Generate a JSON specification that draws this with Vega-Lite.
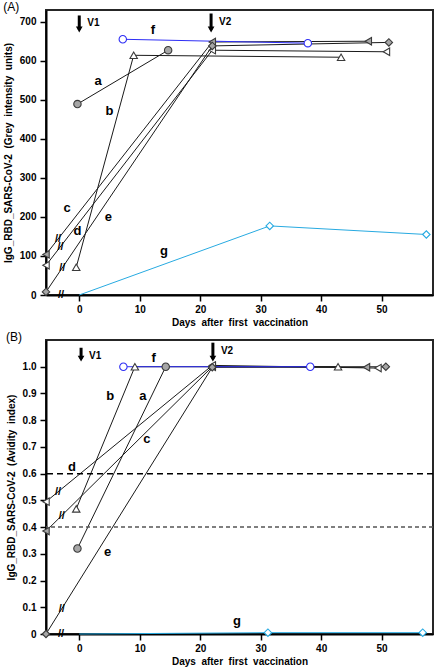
{
  "$schema": "https://vega.github.io/schema/vega-lite/v6.json",
  "padding": {"left": 2, "right": 1, "top": 0, "bottom": 0},
  "spacing": 2,
  "config": {
    "font": "Liberation Sans",
    "view": {"stroke": "#262626", "strokeWidth": 2},
    "axis": {"grid": false, "domainColor": "#000", "domainWidth": 2, "tickColor": "#000", "tickWidth": 1.5, "tickSize": 6, "labelFontSize": 10, "labelFontWeight": "bold", "labelColor": "#000", "titleFontSize": 10, "titleFontWeight": "bold", "titleColor": "#000", "labelPadding": 3, "labelOverlap": false},
    "axisY": {"titlePadding": 6, "labelPadding": 4},
    "axisX": {"titlePadding": 3},
    "title": {"fontSize": 12, "fontWeight": "normal", "anchor": "start", "frame": "bounds", "offset": -4, "color": "#000"}
  },
  "datasets": {
    "seriesA": [
      {"subject": "a", "day": -0.3, "value": 489}, {"subject": "a", "day": 14.7, "value": 627},
      {"subject": "b", "day": -0.5, "value": 71}, {"subject": "b", "day": 9.0, "value": 614}, {"subject": "b", "day": 43.3, "value": 609},
      {"subject": "c", "day": -5.5, "value": 104}, {"subject": "c", "day": 22, "value": 648}, {"subject": "c", "day": 47.8, "value": 650},
      {"subject": "d", "day": -5.5, "value": 76}, {"subject": "d", "day": 22, "value": 627}, {"subject": "d", "day": 50.8, "value": 623},
      {"subject": "e", "day": -5.5, "value": 8}, {"subject": "e", "day": 22, "value": 638}, {"subject": "e", "day": 51.2, "value": 647},
      {"subject": "f", "day": 7.2, "value": 655}, {"subject": "f", "day": 37.8, "value": 645},
      {"subject": "g", "day": 0, "value": 0}, {"subject": "g", "day": 31.5, "value": 177}, {"subject": "g", "day": 57.4, "value": 155}
    ],
    "seriesB": [
      {"subject": "a", "day": -0.3, "value": 0.32}, {"subject": "a", "day": 14.3, "value": 1.0},
      {"subject": "b", "day": -0.5, "value": 0.468}, {"subject": "b", "day": 9.2, "value": 1.0}, {"subject": "b", "day": 42.8, "value": 1.0},
      {"subject": "c", "day": -5.5, "value": 0.385}, {"subject": "c", "day": 22, "value": 1.0}, {"subject": "c", "day": 47.5, "value": 0.998},
      {"subject": "d", "day": -5.5, "value": 0.495}, {"subject": "d", "day": 22, "value": 1.005}, {"subject": "d", "day": 49.4, "value": 0.995},
      {"subject": "e", "day": -5.5, "value": 0.0}, {"subject": "e", "day": 22, "value": 0.998}, {"subject": "e", "day": 50.7, "value": 1.0},
      {"subject": "f", "day": 7.3, "value": 1.0}, {"subject": "f", "day": 38.2, "value": 1.0},
      {"subject": "g", "day": 0, "value": 0}, {"subject": "g", "day": 31.2, "value": 0.005}, {"subject": "g", "day": 56.8, "value": 0.005}
    ],
    "labelsA": [
      {"label": "a", "day": 3.1, "value": 547}, {"label": "b", "day": 5.0, "value": 471},
      {"label": "c", "day": -2.0, "value": 223}, {"label": "d", "day": -0.3, "value": 163},
      {"label": "e", "day": 4.8, "value": 200}, {"label": "f", "day": 12.2, "value": 678},
      {"label": "g", "day": 14.0, "value": 113}
    ],
    "labelsB": [
      {"label": "a", "day": 10.5, "value": 0.891}, {"label": "b", "day": 5.1, "value": 0.889},
      {"label": "c", "day": 11.2, "value": 0.73}, {"label": "d", "day": -1.2, "value": 0.623},
      {"label": "e", "day": 4.7, "value": 0.308}, {"label": "f", "day": 12.3, "value": 1.034},
      {"label": "g", "day": 26.1, "value": 0.049}
    ],
    "breaksA": [
      {"label": "//", "day": -3.5, "value": 144}, {"label": "//", "day": -3.1, "value": 124},
      {"label": "//", "day": -2.8, "value": 70}, {"label": "//", "day": -3.0, "value": 0}
    ],
    "breaksB": [
      {"label": "//", "day": -3.5, "value": 0.533}, {"label": "//", "day": -2.9, "value": 0.443},
      {"label": "//", "day": -2.9, "value": 0.095}, {"label": "//", "day": -3.0, "value": 0}
    ],
    "arrowsA": [
      {"label": "V1", "day": 0, "top": 716, "head": 680},
      {"label": "V2", "day": 21.8, "top": 721, "head": 680}
    ],
    "arrowsB": [
      {"label": "V1", "day": 0.3, "top": 1.071, "head": 1.03},
      {"label": "V2", "day": 22.1, "top": 1.09, "head": 1.03}
    ]
  },
  "vconcat": [
    {
      "title": "(A)",
      "width": 387,
      "height": 285,
      "layer": [
        {
          "data": {"name": "seriesA"},
          "mark": {"type": "line", "strokeWidth": 1},
          "encoding": {
            "x": {"field": "day", "type": "quantitative", "scale": {"domain": [-5.5, 58.5], "nice": false, "zero": false}, "axis": {"values": [0, 10, 20, 30, 40, 50], "title": "Days\u00a0 after\u00a0 first\u00a0 vaccination"}},
            "y": {"field": "value", "type": "quantitative", "scale": {"domain": [0, 730], "nice": false}, "axis": {"values": [0, 100, 200, 300, 400, 500, 600, 700], "title": "IgG_RBD_SARS-CoV-2\u00a0 (Grey\u00a0 intensity\u00a0 units)"}},
            "color": {"field": "subject", "type": "nominal", "scale": {"domain": ["a", "b", "c", "d", "e", "f", "g"], "range": ["#1a1a1a", "#1a1a1a", "#1a1a1a", "#1a1a1a", "#1a1a1a", "#2e2ef5", "#27aae1"]}, "legend": null}
          }
        },
        {
          "data": {"name": "seriesA"},
          "transform": [{"filter": "!(datum.subject == 'g' && datum.day == 0)"}],
          "mark": {"type": "point", "filled": true, "size": 55, "strokeWidth": 1.1, "opacity": 1},
          "encoding": {
            "x": {"field": "day", "type": "quantitative"},
            "y": {"field": "value", "type": "quantitative"},
            "shape": {"field": "subject", "type": "nominal", "scale": {"domain": ["a", "b", "c", "d", "e", "f", "g"], "range": ["circle", "triangle-up", "triangle-left", "triangle-left", "diamond", "circle", "diamond"]}, "legend": null},
            "fill": {"field": "subject", "type": "nominal", "scale": {"domain": ["a", "b", "c", "d", "e", "f", "g"], "range": ["#a6a6a6", "#ffffff", "#a6a6a6", "#ffffff", "#a6a6a6", "#ffffff", "#ffffff"]}, "legend": null},
            "stroke": {"field": "subject", "type": "nominal", "scale": {"domain": ["a", "b", "c", "d", "e", "f", "g"], "range": ["#3a3a3a", "#3a3a3a", "#3a3a3a", "#3a3a3a", "#3a3a3a", "#2e2ef5", "#27aae1"]}, "legend": null}
          }
        },
        {
          "data": {"name": "labelsA"},
          "mark": {"type": "text", "fontSize": 13, "fontWeight": "bold", "color": "#000"},
          "encoding": {
            "x": {"field": "day", "type": "quantitative"},
            "y": {"field": "value", "type": "quantitative"},
            "text": {"field": "label"}
          }
        },
        {
          "data": {"name": "breaksA"},
          "mark": {"type": "text", "fontSize": 11, "fontWeight": "bold", "color": "#000"},
          "encoding": {
            "x": {"field": "day", "type": "quantitative"},
            "y": {"field": "value", "type": "quantitative"},
            "text": {"field": "label"}
          }
        },
        {
          "data": {"name": "arrowsA"},
          "mark": {"type": "rule", "strokeWidth": 3, "color": "#000"},
          "encoding": {
            "x": {"field": "day", "type": "quantitative"},
            "y": {"field": "top", "type": "quantitative"},
            "y2": {"field": "head"}
          }
        },
        {
          "data": {"name": "arrowsA"},
          "mark": {"type": "point", "shape": "triangle-down", "filled": true, "color": "#000", "size": 45, "opacity": 1},
          "encoding": {
            "x": {"field": "day", "type": "quantitative"},
            "y": {"field": "head", "type": "quantitative"}
          }
        },
        {
          "data": {"name": "arrowsA"},
          "mark": {"type": "text", "fontSize": 10, "fontWeight": "bold", "align": "left", "baseline": "top", "dx": 8, "dy": 3, "color": "#000"},
          "encoding": {
            "x": {"field": "day", "type": "quantitative"},
            "y": {"field": "top", "type": "quantitative"},
            "text": {"field": "label"}
          }
        }
      ]
    },
    {
      "title": "(B)",
      "width": 387,
      "height": 294,
      "resolve": {"axis": {"y": "independent"}},
      "layer": [
        {
          "data": {"name": "seriesB"},
          "mark": {"type": "line", "strokeWidth": 1},
          "encoding": {
            "x": {"field": "day", "type": "quantitative", "scale": {"domain": [-5.5, 58.5], "nice": false, "zero": false}, "axis": {"values": [0, 10, 20, 30, 40, 50], "title": "Days\u00a0 after\u00a0 first\u00a0 vaccination"}},
            "y": {"field": "value", "type": "quantitative", "scale": {"domain": [0, 1.1], "nice": false}, "axis": {"orient": "left", "values": [0, 0.2, 0.4, 0.6, 0.8, 1.0], "labelExpr": "datum.value == 0 ? '0' : format(datum.value, '.1f')", "title": "IgG_RBD_SARS-CoV-2\u00a0 (Avidity\u00a0 index)"}},
            "color": {"field": "subject", "type": "nominal", "scale": {"domain": ["a", "b", "c", "d", "e", "f", "g"], "range": ["#1a1a1a", "#1a1a1a", "#1a1a1a", "#1a1a1a", "#1a1a1a", "#2e2ef5", "#27aae1"]}, "legend": null}
          }
        },
        {
          "data": {"values": [{"value": 0.6}]},
          "mark": {"type": "rule", "strokeWidth": 1.5, "strokeDash": [6, 4], "color": "#000"},
          "encoding": {
            "y": {"field": "value", "type": "quantitative", "axis": {"orient": "left", "values": [0.1, 0.3, 0.5, 0.7, 0.9], "format": ".1f", "domain": false, "title": null}}
          }
        },
        {
          "data": {"values": [{"value": 0.4}]},
          "mark": {"type": "rule", "strokeWidth": 1.5, "strokeDash": [4, 3], "color": "#555"},
          "encoding": {
            "y": {"field": "value", "type": "quantitative", "axis": null}
          }
        },
        {
          "data": {"name": "seriesB"},
          "transform": [{"filter": "!(datum.subject == 'g' && datum.day == 0)"}],
          "mark": {"type": "point", "filled": true, "size": 55, "strokeWidth": 1.1, "opacity": 1},
          "encoding": {
            "x": {"field": "day", "type": "quantitative"},
            "y": {"field": "value", "type": "quantitative", "axis": null},
            "shape": {"field": "subject", "type": "nominal", "scale": {"domain": ["a", "b", "c", "d", "e", "f", "g"], "range": ["circle", "triangle-up", "triangle-left", "triangle-left", "diamond", "circle", "diamond"]}, "legend": null},
            "fill": {"field": "subject", "type": "nominal", "scale": {"domain": ["a", "b", "c", "d", "e", "f", "g"], "range": ["#a6a6a6", "#ffffff", "#a6a6a6", "#ffffff", "#a6a6a6", "#ffffff", "#ffffff"]}, "legend": null},
            "stroke": {"field": "subject", "type": "nominal", "scale": {"domain": ["a", "b", "c", "d", "e", "f", "g"], "range": ["#3a3a3a", "#3a3a3a", "#3a3a3a", "#3a3a3a", "#3a3a3a", "#2e2ef5", "#27aae1"]}, "legend": null}
          }
        },
        {
          "data": {"name": "labelsB"},
          "mark": {"type": "text", "fontSize": 13, "fontWeight": "bold", "color": "#000"},
          "encoding": {
            "x": {"field": "day", "type": "quantitative"},
            "y": {"field": "value", "type": "quantitative", "axis": null},
            "text": {"field": "label"}
          }
        },
        {
          "data": {"name": "breaksB"},
          "mark": {"type": "text", "fontSize": 11, "fontWeight": "bold", "color": "#000"},
          "encoding": {
            "x": {"field": "day", "type": "quantitative"},
            "y": {"field": "value", "type": "quantitative", "axis": null},
            "text": {"field": "label"}
          }
        },
        {
          "data": {"name": "arrowsB"},
          "mark": {"type": "rule", "strokeWidth": 3, "color": "#000"},
          "encoding": {
            "x": {"field": "day", "type": "quantitative"},
            "y": {"field": "top", "type": "quantitative", "axis": null},
            "y2": {"field": "head"}
          }
        },
        {
          "data": {"name": "arrowsB"},
          "mark": {"type": "point", "shape": "triangle-down", "filled": true, "color": "#000", "size": 45, "opacity": 1},
          "encoding": {
            "x": {"field": "day", "type": "quantitative"},
            "y": {"field": "head", "type": "quantitative", "axis": null}
          }
        },
        {
          "data": {"name": "arrowsB"},
          "mark": {"type": "text", "fontSize": 10, "fontWeight": "bold", "align": "left", "baseline": "top", "dx": 8, "dy": 3, "color": "#000"},
          "encoding": {
            "x": {"field": "day", "type": "quantitative"},
            "y": {"field": "top", "type": "quantitative", "axis": null},
            "text": {"field": "label"}
          }
        }
      ]
    }
  ]
}
